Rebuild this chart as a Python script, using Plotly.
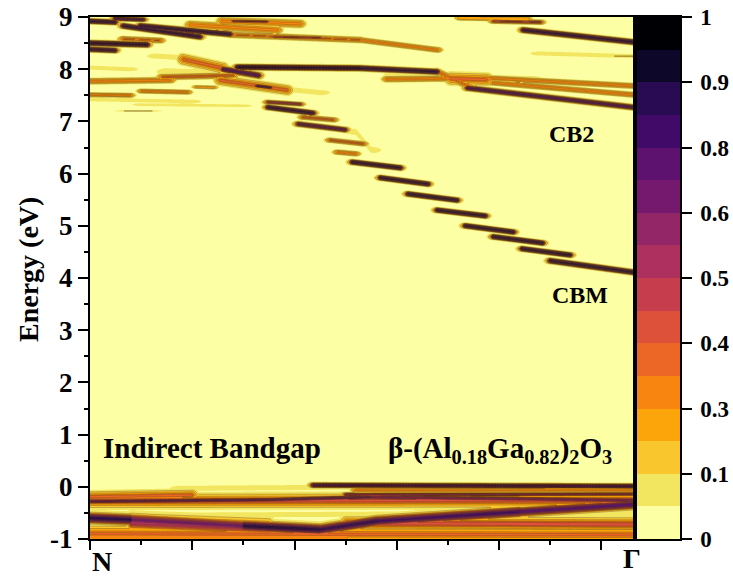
import numpy as np
import plotly.graph_objects as go

# ---------------- data ----------------
K_MAX = 1.062                      # k-path length shown (N -> Gamma)
E_MIN, E_MAX = -1.0, 9.0

# colour levels (16 equal bands 0..1)
band_colors = ['#fcffa4', '#f2e661', '#fac62d', '#fca50a', '#f8850f', '#ec6726',
               '#dd513a', '#c63d4d', '#ad305e', '#932667', '#75196e', '#5c126e',
               '#420a68', '#280b53', '#0d0829', '#000004']
cbar_tickvals = [0, 0.125, 0.25, 0.375, 0.5, 0.625, 0.75, 0.875, 1.0]
cbar_ticktext = ['0', '0.1', '0.3', '0.4', '0.5', '0.6', '0.8', '0.9', '1']
y_tickvals = [-1, 0, 1, 2, 3, 4, 5, 6, 7, 8, 9]
y_ticktext = ['-1', '0', '1', '2', '3', '4', '5', '6', '7', '8', '9']

# unfolded band segments: [k0, k1, E0, E1, spectral weight, broadening(eV)]
cbm_dashes = [
    [0.513, 0.607, 6.22, 6.11, 0.90, 0.024],
    [0.568, 0.661, 5.92, 5.80, 0.90, 0.024],
    [0.622, 0.718, 5.61, 5.49, 0.90, 0.024],
    [0.679, 0.773, 5.30, 5.19, 0.90, 0.024],
    [0.734, 0.828, 5.00, 4.88, 0.90, 0.024],
    [0.789, 0.885, 4.79, 4.67, 0.90, 0.024],
    [0.845, 0.939, 4.56, 4.44, 0.90, 0.024],
    [0.900, 1.062, 4.33, 4.11, 0.90, 0.026],
]
cb_upper_dashes = [
    [0.348, 0.411, 7.37, 7.33, 0.50, 0.018],
    [0.348, 0.436, 7.27, 7.16, 0.88, 0.024],
    [0.417, 0.476, 7.08, 7.03, 0.35, 0.020],
    [0.407, 0.499, 6.95, 6.84, 0.70, 0.024],
    [0.470, 0.534, 6.64, 6.57, 0.35, 0.020],
    [0.485, 0.519, 6.41, 6.38, 0.28, 0.020],
]
cb2_bands = [
    [0.288, 0.528, 8.04, 8.02, 0.90, 0.026],
    [0.528, 0.679, 8.02, 7.95, 0.88, 0.026],
    [0.679, 0.744, 7.95, 7.66, 0.32, 0.030],
    [0.738, 1.062, 7.64, 7.27, 0.75, 0.026],
    [0.581, 0.777, 7.81, 7.83, 0.28, 0.024],
    [0.777, 1.062, 7.83, 7.68, 0.30, 0.022],
    [0.789, 1.062, 7.74, 7.51, 0.30, 0.022],
    [0.705, 0.777, 7.82, 7.80, 0.35, 0.050],
]
top_bands = [
    [0.000, 0.049, 8.92, 8.90, 0.88, 0.024],
    [0.049, 0.104, 8.97, 8.95, 0.75, 0.020],
    [0.065, 0.215, 8.83, 8.62, 0.88, 0.026],
    [0.098, 0.274, 8.83, 8.67, 0.88, 0.026],
    [0.274, 0.528, 8.66, 8.56, 0.32, 0.024],
    [0.528, 0.679, 8.56, 8.37, 0.28, 0.022],
    [0.360, 0.450, 8.62, 8.60, 0.45, 0.015],
    [0.000, 0.112, 8.50, 8.47, 0.90, 0.026],
    [0.065, 0.137, 8.58, 8.55, 0.32, 0.022],
    [0.000, 0.049, 8.38, 8.36, 0.85, 0.024],
    [0.196, 0.366, 8.85, 8.75, 0.30, 0.032],
    [0.258, 0.411, 8.92, 8.87, 0.30, 0.032],
    [0.280, 0.346, 8.92, 8.91, 0.55, 0.012],
    [0.847, 1.062, 8.75, 8.52, 0.88, 0.026],
    [0.789, 0.881, 8.92, 8.90, 0.45, 0.020],
    [0.724, 0.855, 8.98, 8.96, 0.25, 0.020],
    [1.037, 1.062, 8.25, 8.25, 0.15, 0.015],
]
mid_bands = [
    [0.182, 0.260, 8.19, 8.02, 0.35, 0.045],
    [0.260, 0.330, 8.00, 7.88, 0.75, 0.030],
    [0.000, 0.157, 7.77, 7.79, 0.30, 0.024],
    [0.141, 0.280, 7.85, 7.88, 0.35, 0.024],
    [0.254, 0.386, 7.79, 7.60, 0.35, 0.040],
    [0.327, 0.352, 7.68, 7.65, 0.75, 0.015],
    [0.000, 0.078, 7.51, 7.50, 0.30, 0.018],
    [0.102, 0.190, 7.58, 7.56, 0.30, 0.018],
    [0.209, 0.241, 7.66, 7.65, 0.22, 0.015],
    [0.072, 0.117, 7.20, 7.20, 0.13, 0.012],
]
vb_bands = [
    [0.436, 1.062, 0.03, 0.01, 0.78, 0.024],
    [0.520, 1.062, -0.06, -0.06, 0.30, 0.020],
    [0.500, 1.062, -0.15, -0.14, 0.55, 0.020],
    [0.000, 0.200, -0.19, -0.16, 0.35, 0.045],
    [0.000, 0.350, -0.28, -0.25, 0.65, 0.025],
    [0.350, 0.550, -0.25, -0.20, 0.65, 0.025],
    [0.550, 1.062, -0.20, -0.26, 0.60, 0.028],
    [0.000, 1.062, -0.27, -0.26, 0.40, 0.060],
    [0.000, 0.080, -0.60, -0.63, 0.85, 0.055],
    [0.080, 0.300, -0.63, -0.75, 0.65, 0.060],
    [0.300, 0.450, -0.75, -0.82, 0.88, 0.055],
    [0.450, 0.560, -0.82, -0.66, 0.82, 0.055],
    [0.560, 0.840, -0.66, -0.48, 0.78, 0.055],
    [0.840, 1.062, -0.48, -0.34, 0.75, 0.050],
    [0.080, 0.350, -0.68, -0.78, 0.55, 0.080],
    [0.500, 1.062, -0.70, -0.72, 0.42, 0.060],
    [0.000, 1.062, -0.90, -0.92, 0.33, 0.070],
    [0.000, 0.500, -0.98, -0.98, 0.28, 0.040],
]
halo_bands = [
    [0.131, 0.182, 8.25, 8.22, 0.10, 0.050],
    [0.000, 0.075, 8.03, 8.00, 0.10, 0.040],
    [0.150, 0.300, 7.95, 7.90, 0.10, 0.070],
    [0.000, 0.200, 7.42, 7.38, 0.09, 0.040],
    [0.100, 0.300, 7.32, 7.30, 0.09, 0.030],
    [0.300, 0.450, 7.70, 7.55, 0.10, 0.050],
    [0.593, 0.867, 7.87, 7.80, 0.10, 0.070],
    [0.881, 1.062, 8.30, 8.25, 0.10, 0.040],
    [0.520, 0.550, 6.80, 6.45, 0.10, 0.060],
    [0.176, 1.062, -0.03, 0.03, 0.10, 0.050],
    [0.000, 1.062, -0.33, -0.30, 0.10, 0.060],
    [0.000, 1.062, -0.55, -0.50, 0.10, 0.050],
]

# ---------------- build the broadened spectral map ----------------
kgrid = np.linspace(0, K_MAX, 361)
egrid = np.linspace(E_MIN, E_MAX, 801)
Z = np.zeros((egrid.size, kgrid.size))

def _profile(k0, k1, e0, e1, w, s, tau):
    kk = np.clip(kgrid, k0, k1)
    frac = (kk - k0) / (k1 - k0) if k1 > k0 else np.zeros_like(kk)
    eline = e0 + (e1 - e0) * frac
    dk = np.where(kgrid < k0, k0 - kgrid, np.where(kgrid > k1, kgrid - k1, 0.0))
    taper = np.exp(-dk ** 2 / (2 * tau ** 2))
    return w * np.exp(-(egrid[:, None] - eline[None, :]) ** 2 / (2 * s ** 2)) * taper[None, :]

def add_segment(k0, k1, e0, e1, w, s):
    if w <= 0.15:
        contrib = _profile(k0, k1, e0, e1, w, s, 0.02)
    else:
        core = _profile(k0, k1, e0, e1, w, s, 0.003)
        shoulder = _profile(k0, k1, e0, e1, min(w, 0.27), 1.7 * s, 0.008)
        contrib = np.maximum(core, shoulder)
    np.maximum(Z, contrib, out=Z)

for group in (halo_bands, cbm_dashes, cb_upper_dashes, cb2_bands, top_bands, mid_bands, vb_bands):
    for row in group:
        add_segment(*row)
Z = np.round(Z, 3)

FONT = "Liberation Serif, Times New Roman, serif"
n = len(band_colors)
contour_scale = [[j / (n - 1), c] for j, c in enumerate(band_colors)]
step = 1.0 / n

fig = go.Figure()
fig.add_trace(go.Contour(
    x=kgrid, y=egrid, z=Z, autocontour=False,
    contours=dict(start=step, end=1 - step, size=step, coloring='fill', showlines=False),
    colorscale=contour_scale, line=dict(width=0, smoothing=0), showscale=False,
    hoverinfo='skip'))
fig.add_trace(go.Contour(
    x=kgrid, y=egrid, z=Z, autocontour=False,
    contours=dict(start=2 * step, end=1 - step, size=step, coloring='none'),
    line=dict(width=0.5, color='rgba(70,50,35,0.65)', smoothing=0), showscale=False,
    hoverinfo='skip'))

# colour bar drawn as a stepped heat strip
fig.add_trace(go.Heatmap(
    x=[0], y=[(j + 0.5) * step for j in range(n)], z=[[j] for j in range(n)],
    zmin=0, zmax=n - 1, colorscale=contour_scale, showscale=False,
    xaxis='x2', yaxis='y2', hoverinfo='skip'))

W, H = 733, 578
ml, mr, mt, mb = 90, 30, 17, 39
pw = W - ml - mr
x_end = (633 - ml) / pw
fig.update_layout(
    width=W, height=H, margin=dict(l=ml, r=mr, t=mt, b=mb),
    paper_bgcolor='white', plot_bgcolor='white', showlegend=False,
    font=dict(family=FONT, color='black'),
    xaxis=dict(domain=[0, x_end], range=[0, K_MAX], tickvals=[0, 0.2, 0.4, 0.6, 0.8, 1.0],
               ticks='outside', ticklen=9, tickwidth=2, tickcolor='black', showticklabels=False,
               minor=dict(tickvals=[0.1, 0.3, 0.5, 0.7, 0.9], ticks='outside', ticklen=4,
                          tickwidth=2, tickcolor='black'),
               showline=True, linewidth=2, linecolor='black', mirror=True,
               showgrid=False, zeroline=False, automargin=False),
    yaxis=dict(range=[E_MIN, E_MAX], tickvals=y_tickvals, ticktext=y_ticktext,
               ticks='outside', ticklen=10, tickwidth=2, tickcolor='black',
               minor=dict(tickvals=[v + 0.5 for v in y_tickvals[:-1]], ticks='outside',
                          ticklen=4, tickwidth=2, tickcolor='black'),
               tickfont=dict(family=FONT, size=27, color='black', weight='bold'),
               showline=True, linewidth=2, linecolor='black', mirror=True,
               showgrid=False, zeroline=False, automargin=False),
    xaxis2=dict(domain=[(637 - ml) / pw, (680 - ml) / pw], anchor='y2', range=[-0.5, 0.5],
                showticklabels=False, ticks='', showline=True, linewidth=1.5,
                linecolor='black', mirror=True, showgrid=False, zeroline=False),
    yaxis2=dict(domain=[0, 1], anchor='x2', side='right', range=[0, 1],
                tickvals=cbar_tickvals, ticktext=cbar_ticktext, ticks='outside', ticklen=10,
                tickwidth=1.5, tickcolor='black', ticklabelstandoff=4,
                tickfont=dict(family=FONT, size=23, color='black', weight='bold'),
                showline=True, linewidth=1.5, linecolor='black', mirror=True,
                showgrid=False, zeroline=False, automargin=False),
)

def ann(text, x, y, size, xref='x', yref='y', angle=0):
    fig.add_annotation(text=text, x=x, y=y, xref=xref, yref=yref, showarrow=False,
                       textangle=angle, xanchor='center', yanchor='middle',
                       font=dict(family=FONT, size=size, color='black', weight='bold'))

ann('Indirect Bandgap', 0.239, 0.74, 29)
ann('β-(Al<sub>0.18</sub>Ga<sub>0.82</sub>)<sub>2</sub>O<sub>3</sub>', 0.802, 0.70, 29)
ann('CB2', 0.941, 6.76, 24)
ann('CBM', 0.959, 3.67, 24)
ann('N', 0.0235, -0.044, 28, yref='paper')
ann('Γ', K_MAX - 0.002, -0.037, 28, yref='paper')
ann('Energy (eV)', (28 - ml) / pw, (539 - 270) / 522, 28, xref='paper', yref='paper', angle=-90)

fig.write_html("out.html")
